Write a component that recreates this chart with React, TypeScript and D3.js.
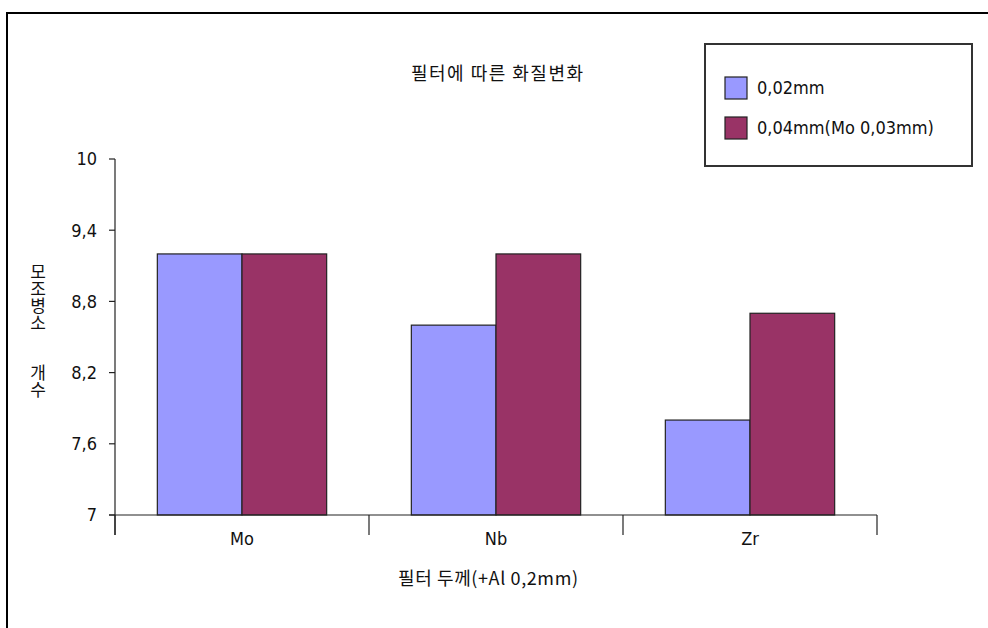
import React from "react";
import * as d3 from "d3";

const categories = ["Mo", "Nb", "Zr"];
const seriesNames = ["0,02mm", "0,04mm(Mo 0,03mm)"];
const thinValues = [9.2, 8.6, 7.8];
const thickValues = [9.2, 9.2, 8.7];
const yTicks = [7, 7.6, 8.2, 8.8, 9.4, 10];
const yTickLabels = ["7", "7,6", "8,2", "8,8", "9,4", "10"];
const title = "필터에 따른 화질변화";
const xTitle = "필터 두께(+Al 0,2mm)";
const yTitleTop = "모조병소";
const yTitleBottom = "개수";

const colors = ["#9999FF", "#993366"];
const KR = "'Noto Sans CJK KR', 'DejaVu Sans', sans-serif";
const LAT = "'DejaVu Sans Condensed', 'DejaVu Sans', sans-serif";

export default function App() {
  const W = 988;
  const H = 628;
  const plot = { left: 115, right: 877, top: 159, bottom: 515 };

  const y = d3.scaleLinear().domain([7, 10]).range([plot.bottom, plot.top]);
  const x = d3.scaleBand().domain(categories).range([plot.left, plot.right]);
  const bw = x.bandwidth();
  const inner = d3
    .scaleBand()
    .domain(seriesNames)
    .range([bw / 6, (bw * 5) / 6]);

  const series = [thinValues, thickValues];
  const tickLen = 20;
  const vertical: React.CSSProperties = {
    writingMode: "vertical-rl",
    textOrientation: "upright",
  } as React.CSSProperties;

  return (
    <svg
      width={W}
      height={H}
      style={{ position: "absolute", left: 0, top: 0, background: "#fff" }}
    >
      <rect x={0} y={0} width={W} height={H} fill="#fff" />
      {/* outer chart frame */}
      <rect
        x={7}
        y={13}
        width={W + 20}
        height={H + 20}
        fill="none"
        stroke="#000"
        strokeWidth={2}
      />

      <text
        x={411}
        y={80}
        fontFamily={KR}
        fontSize={18}
        textLength={172}
        lengthAdjust="spacing"
        fill="#111"
      >
        {title}
      </text>

      {/* bars */}
      {categories.map((c, ci) =>
        series.map((vals, si) => {
          const x0 = (x(c) as number) + (inner(seriesNames[si]) as number);
          const yv = y(vals[ci]);
          return (
            <rect
              key={c + si}
              x={x0}
              y={yv}
              width={inner.bandwidth()}
              height={plot.bottom - yv}
              fill={colors[si]}
              stroke="#222"
              strokeWidth={1.2}
            />
          );
        })
      )}

      {/* y axis */}
      <line
        x1={plot.left}
        x2={plot.left}
        y1={plot.top}
        y2={plot.bottom + tickLen}
        stroke="#222"
        strokeWidth={1.2}
      />
      {yTicks.map((t, i) => (
        <g key={t}>
          <line
            x1={plot.left - 6}
            x2={plot.left}
            y1={y(t)}
            y2={y(t)}
            stroke="#222"
            strokeWidth={1.2}
          />
          <text
            x={97}
            y={y(t)}
            dy="0.35em"
            textAnchor="end"
            fontFamily={LAT}
            fontSize={18}
            fill="#111"
          >
            {yTickLabels[i]}
          </text>
        </g>
      ))}

      {/* x axis */}
      <line
        x1={plot.left - 6}
        x2={plot.right}
        y1={plot.bottom}
        y2={plot.bottom}
        stroke="#222"
        strokeWidth={1.2}
      />
      {[...categories.map((c) => x(c) as number), plot.right].map((px, i) => (
        <line
          key={i}
          x1={px}
          x2={px}
          y1={plot.bottom}
          y2={plot.bottom + tickLen}
          stroke="#222"
          strokeWidth={1.2}
        />
      ))}
      {categories.map((c) => (
        <text
          key={c}
          x={(x(c) as number) + bw / 2}
          y={545}
          textAnchor="middle"
          fontFamily={LAT}
          fontSize={18}
          fill="#111"
        >
          {c}
        </text>
      ))}

      <text
        x={398}
        y={585}
        fontFamily={KR}
        fontSize={18}
        textLength={180}
        lengthAdjust="spacing"
        fill="#111"
      >
        {xTitle}
      </text>

      {/* vertical y-axis title */}
      <text
        x={38}
        y={263}
        fontFamily={KR}
        fontSize={17}
        fill="#111"
        style={vertical}
      >
        {yTitleTop}
      </text>
      <text
        x={38}
        y={364}
        fontFamily={KR}
        fontSize={17}
        fill="#111"
        style={vertical}
      >
        {yTitleBottom}
      </text>

      {/* legend */}
      <rect
        x={705}
        y={44}
        width={267}
        height={122}
        fill="#fff"
        stroke="#333"
        strokeWidth={2}
      />
      {seriesNames.map((s, i) => (
        <g key={s}>
          <rect
            x={725}
            y={77 + i * 40}
            width={22}
            height={22}
            fill={colors[i]}
            stroke="#222"
            strokeWidth={1.2}
          />
          <text
            x={757}
            y={88 + i * 40}
            dy="0.35em"
            fontFamily={LAT}
            fontSize={18}
            fill="#111"
          >
            {s}
          </text>
        </g>
      ))}
    </svg>
  );
}
